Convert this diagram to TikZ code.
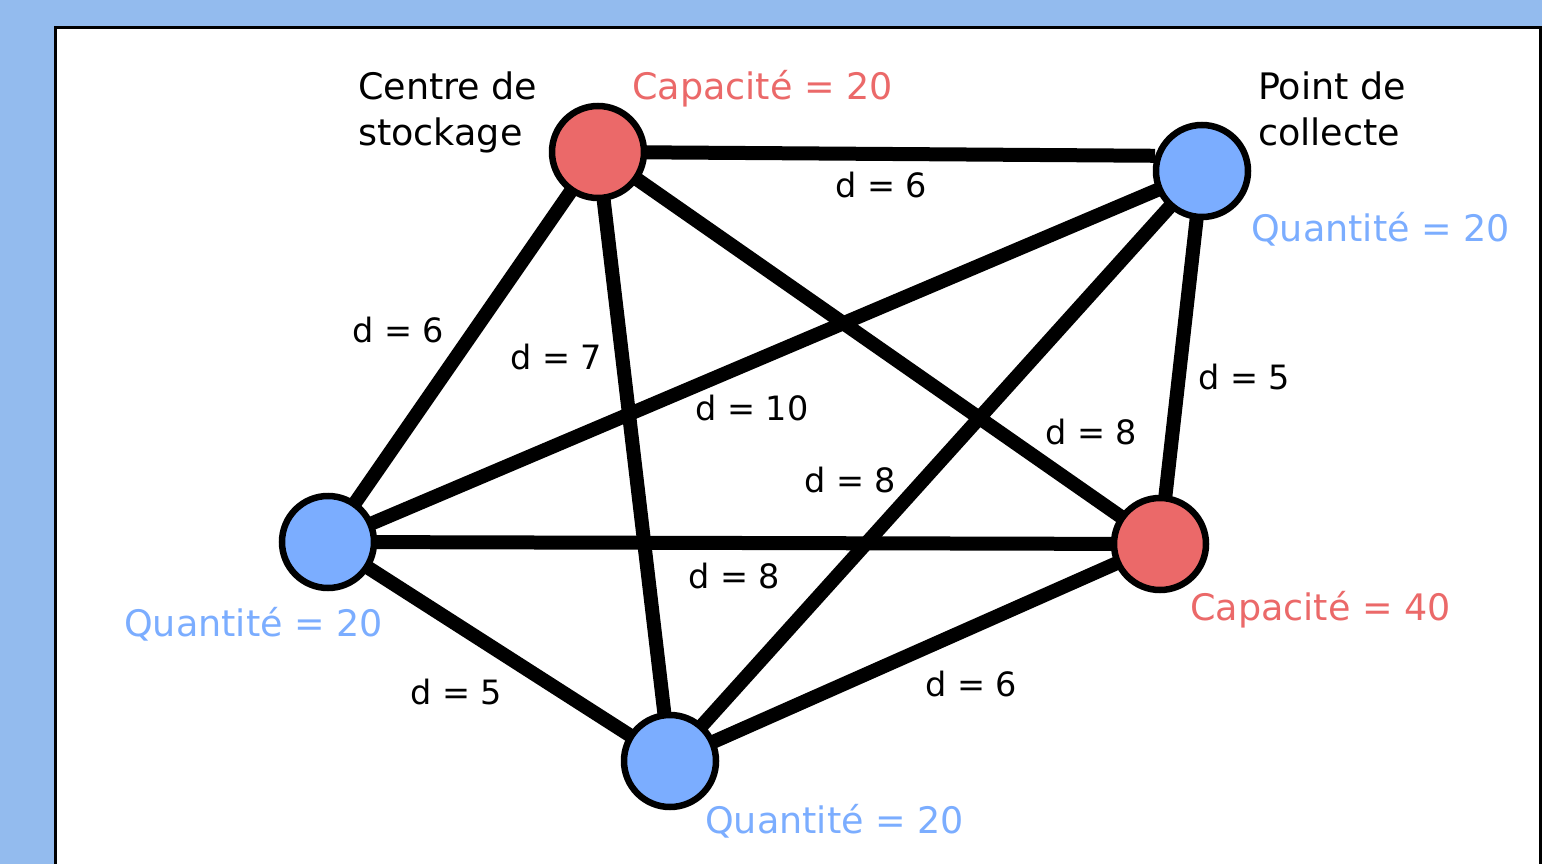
\documentclass[tikz,border=0pt]{standalone}
\usepackage{fontspec}
\setmainfont{DejaVu Sans}
\usetikzlibrary{backgrounds}
\definecolor{bgblue}{HTML}{93BBEE}
\definecolor{nred}{HTML}{EB6969}
\definecolor{nblue}{HTML}{7BADFF}
\tikzset{
  vertex/.style={circle, draw=black, line width=6.5pt, minimum size=92pt, inner sep=0pt},
  redv/.style={vertex, fill=nred},
  bluev/.style={vertex, fill=nblue},
  edge/.style={line width=14pt, black},
  lbl/.style={anchor=base west, inner sep=0pt, font=\fontsize{36.5}{46}\selectfont, align=left},
  dlbl/.style={anchor=base west, inner sep=0pt, font=\fontsize{33.5}{40}\selectfont},
}
\begin{document}
\begin{tikzpicture}[x=1pt,y=-1pt]
\useasboundingbox (0,0) rectangle (1542,864);

\node[redv] (S) at (598,152) {};
\node[bluev] (P) at (1202,171) {};
\node[bluev] (L) at (328,542) {};
\node[redv] (R) at (1160,544) {};
\node[bluev] (B) at (670,761) {};

\begin{pgfonlayer}{background}
\begin{scope}
\clip (0,0) rectangle (1542,864);
\fill[bgblue] (0,0) rectangle (1542,864);
\draw[fill=white, line width=3pt] (55.5,27.5) rectangle (1540.5,900);
\end{scope}
\draw[edge] (S.center) -- (P.162);
\draw[edge] (S.center) -- (L.center);
\draw[edge] (S.center) -- (B.center);
\draw[edge] (S.center) -- (R.center);
\draw[edge] (P.center) -- (L.center);
\draw[edge] (P.center) -- (B.center);
\draw[edge] (P.center) -- (R.center);
\draw[edge] (L.center) -- (R.center);
\draw[edge] (L.center) -- (B.center);
\draw[edge] (B.center) -- (R.center);
\end{pgfonlayer}

\node[lbl] (tS) at (358,146) {Centre de\\stockage};
\node[lbl, text=nred] (cS) at (632,100) {Capacité = 20};
\node[lbl] (tP) at (1258,146) {Point de\\collecte};
\node[lbl, text=nblue] (qP) at (1251,241) {Quantité = 20};
\node[lbl, text=nblue] (qL) at (124,636) {Quantité = 20};
\node[lbl, text=nred] (cR) at (1190,620) {Capacité = 40};
\node[lbl, text=nblue] (qB) at (705,833) {Quantité = 20};

\node[dlbl] (d1) at (835,197) {d = 6};
\node[dlbl] (d2) at (352,342) {d = 6};
\node[dlbl] (d3) at (510,369) {d = 7};
\node[dlbl] (d4) at (695,420) {d = 10};
\node[dlbl] (d5) at (1198,389) {d = 5};
\node[dlbl] (d6) at (1045,444) {d = 8};
\node[dlbl] (d7) at (804,492) {d = 8};
\node[dlbl] (d8) at (688,588) {d = 8};
\node[dlbl] (d9) at (410,704) {d = 5};
\node[dlbl] (d10) at (925,696) {d = 6};
\end{tikzpicture}
\end{document}
